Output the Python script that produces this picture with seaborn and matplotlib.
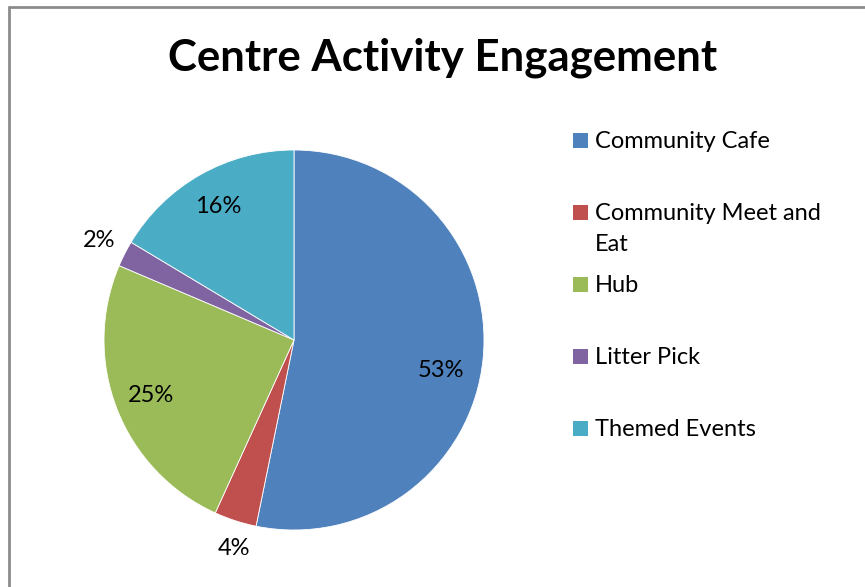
import textwrap
import matplotlib
matplotlib.use("Agg")
import matplotlib.pyplot as plt
from matplotlib.lines import Line2D
from matplotlib.patches import Rectangle
import numpy as np
import seaborn as sns

# Share of engagement per centre activity (percent)
categories = ["Community Cafe", "Community Meet and Eat", "Hub", "Litter Pick", "Themed Events"]
shares = [53.2, 3.6, 24.6, 2.2, 16.4]
colors = ["#4F81BD", "#C0504D", "#9BBB59", "#8064A2", "#4BACC6"]

# Radial placement of each percentage label (fraction of radius) and small angular nudges
label_dist = [0.79, 1.14, 0.81, 1.15, 0.81]
label_nudge = [-6, 2, 0, 0, 0]

sns.set_theme(style="white")
plt.rcParams["font.family"] = ["Lato", "DejaVu Sans"]

W, H = 865, 587
fig = plt.figure(figsize=(W / 100, H / 100), dpi=100)

# Pie axes: centre at (294, 340) px, radius 190 px
cx, cy, r = 294, 340, 190
ax = fig.add_axes([(cx - r) / W, (H - cy - r) / H, 2 * r / W, 2 * r / H])
wedges, _t, autotexts = ax.pie(
    shares, colors=colors, startangle=90, counterclock=False, radius=1,
    autopct="%1.0f%%", pctdistance=0.8,
    wedgeprops=dict(edgecolor="white", linewidth=0.6),
    textprops=dict(fontsize=17, color="black"),
)
for w, t, d, n in zip(wedges, autotexts, label_dist, label_nudge):
    ang = np.deg2rad((w.theta1 + w.theta2) / 2 + n)
    t.set_position((d * np.cos(ang), d * np.sin(ang)))
    t.set_ha("center")
    t.set_va("center")
ax.set_xlim(-1, 1)
ax.set_ylim(-1, 1)
ax.set_aspect("equal")
ax.axis("off")

# Title
fig.text(443 / W, 1 - 58 / H, "Centre Activity Engagement", ha="center", va="center",
         fontsize=31.5, fontweight="bold", color="black")

# Legend: evenly spaced entries, long names wrapped onto extra lines
x_box, y0, step, box, line_h = 573, 133, 72, 15, 31
for i, (name, col) in enumerate(zip(categories, colors)):
    top = y0 + i * step
    fig.patches.append(Rectangle((x_box / W, 1 - (top + box) / H), box / W, box / H,
                                 transform=fig.transFigure, facecolor=col, edgecolor="none"))
    for k, line in enumerate(textwrap.wrap(name, 18)):
        fig.text(595 / W, 1 - (top + box + k * line_h) / H, line, ha="left",
                 va="baseline", fontsize=17, color="black")

# Chart area border (top and left edges)
border = dict(color="#8C8C8C", linewidth=2, transform=fig.transFigure)
fig.lines.append(Line2D([8.5 / W, 8.5 / W], [0, 1 - 6.5 / H], **border))
fig.lines.append(Line2D([8.5 / W, 1], [1 - 6.5 / H, 1 - 6.5 / H], **border))

fig.savefig("out.png", dpi=100)
